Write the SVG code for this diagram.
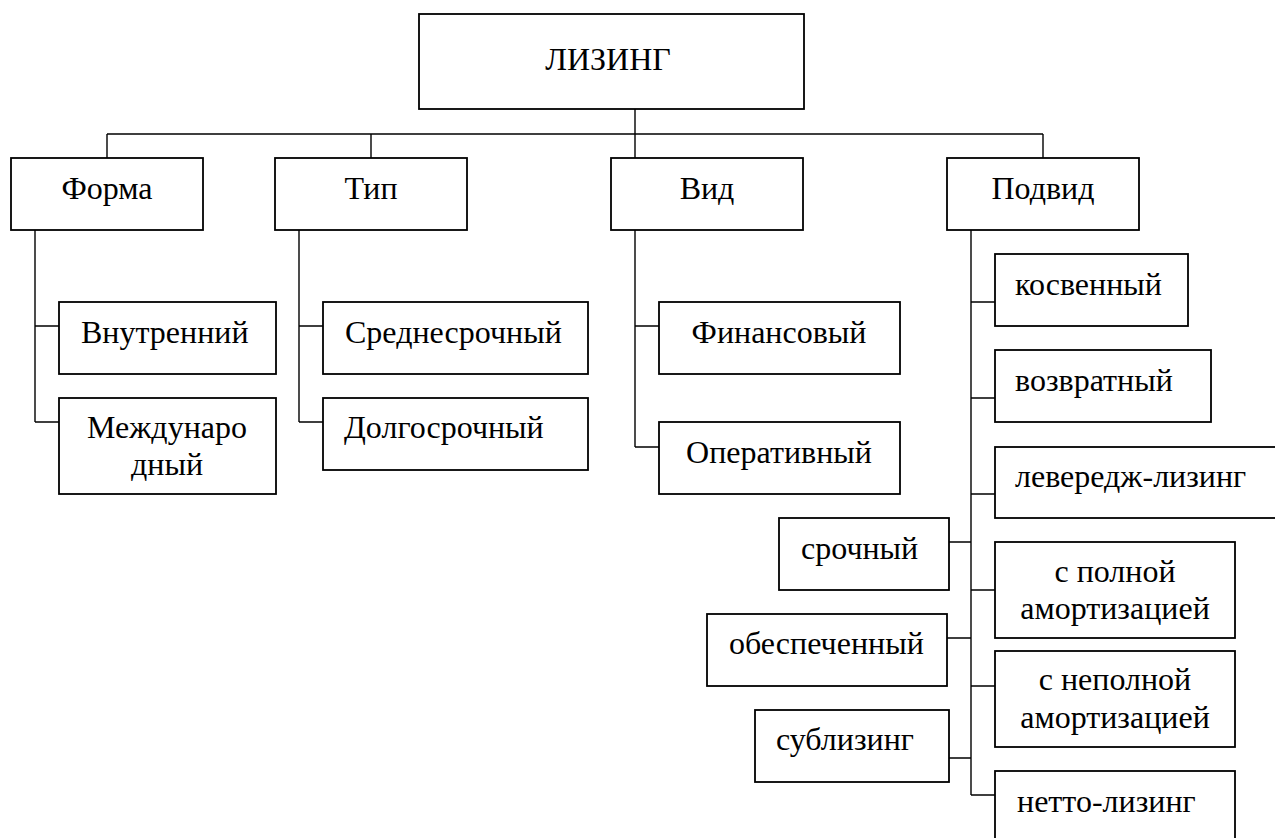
<svg xmlns="http://www.w3.org/2000/svg" width="1275" height="838" viewBox="0 0 1275 838" font-family="'Liberation Serif', 'Times New Roman', serif">
<style>
.box{fill:#fff;stroke:#000;stroke-width:1.8}
.ln{fill:none;stroke:#000;stroke-width:1.4}
text{font-family:'Liberation Serif','Times New Roman',serif;font-size:32px;fill:#000}
.c{text-anchor:middle}
</style>
<rect width="1275" height="838" fill="#fff"/>
<g id="connectors">
<path class="ln" d="M107,134H1043M107,134V158M371,134V158M635,109V158M1043,134V158"/>
<path class="ln" d="M35,230V422M35,326H59M35,422H59"/>
<path class="ln" d="M299,230V422M299,326H323M299,422H323"/>
<path class="ln" d="M635,230V447M635,326H659M635,447H659"/>
<path class="ln" d="M971,230V795M971,302H995M971,398H995M971,494H995M971,590H995M971,686H995M971,795H995M949,542H971M947,638H971M949,758H971"/>
</g>
<g id="n-lizing"><rect class="box" x="419" y="14" width="385" height="95"/><text class="c" x="608" y="70">ЛИЗИНГ</text></g>
<g id="n-forma"><rect class="box" x="11" y="158" width="192" height="72"/><text class="c" x="107" y="199">Форма</text></g>
<g id="n-tip"><rect class="box" x="275" y="158" width="192" height="72"/><text class="c" x="371" y="199">Тип</text></g>
<g id="n-vid"><rect class="box" x="611" y="158" width="192" height="72"/><text class="c" x="707" y="199">Вид</text></g>
<g id="n-podvid"><rect class="box" x="947" y="158" width="192" height="72"/><text class="c" x="1043" y="199">Подвид</text></g>
<g id="n-vnutr"><rect class="box" x="59" y="302" width="217" height="72"/><text x="81" y="343">Внутренний</text></g>
<g id="n-mezhd"><rect class="box" x="59" y="398" width="217" height="96"/><text class="c" x="167" y="438">Междунаро</text><text class="c" x="167" y="475">дный</text></g>
<g id="n-sredne"><rect class="box" x="323" y="302" width="265" height="72"/><text x="345" y="343">Среднесрочный</text></g>
<g id="n-dolgo"><rect class="box" x="323" y="398" width="265" height="72"/><text x="344" y="438">Долгосрочный</text></g>
<g id="n-finans"><rect class="box" x="659" y="302" width="241" height="72"/><text class="c" x="779" y="343">Финансовый</text></g>
<g id="n-operat"><rect class="box" x="659" y="422" width="241" height="72"/><text class="c" x="779" y="463">Оперативный</text></g>
<g id="n-kosv"><rect class="box" x="995" y="254" width="193" height="72"/><text x="1015" y="295">косвенный</text></g>
<g id="n-vozvr"><rect class="box" x="995" y="350" width="216" height="72"/><text x="1015" y="391">возвратный</text></g>
<g id="n-leverage"><rect class="box" x="995" y="447" width="300" height="71"/><text x="1015" y="487">левередж-лизинг</text></g>
<g id="n-srochn"><rect class="box" x="779" y="518" width="170" height="72"/><text x="801" y="559">срочный</text></g>
<g id="n-polnoy"><rect class="box" x="995" y="542" width="240" height="96"/><text class="c" x="1115" y="582">с полной</text><text class="c" x="1115" y="619">амортизацией</text></g>
<g id="n-obesp"><rect class="box" x="707" y="614" width="240" height="72"/><text x="729" y="654">обеспеченный</text></g>
<g id="n-nepoln"><rect class="box" x="995" y="651" width="240" height="96"/><text class="c" x="1115" y="690">с неполной</text><text class="c" x="1115" y="728">амортизацией</text></g>
<g id="n-sublizing"><rect class="box" x="755" y="710" width="194" height="72"/><text x="776" y="750">сублизинг</text></g>
<g id="n-netto"><rect class="box" x="995" y="771" width="240" height="90"/><text x="1017" y="812">нетто-лизинг</text></g>
</svg>
